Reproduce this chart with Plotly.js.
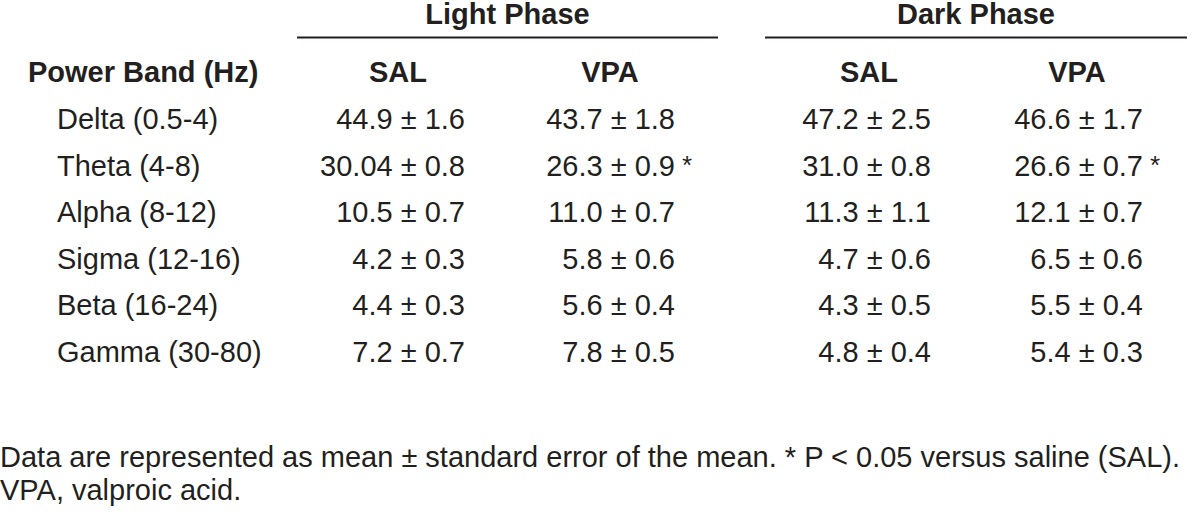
<!DOCTYPE html>
<html>
<head>
<meta charset="utf-8">
<script src="https://cdn.plot.ly/plotly-3.0.1.min.js"></script>
<style>
  html, body { margin: 0; padding: 0; background: #fff; }
  #tableChart { width: 1200px; height: 522px; }
</style>
</head>
<body>
<div id="tableChart"></div>
<script>
// values as printed (mean, SEM); kept as text so 30.04 / 11.0 keep their digits
const bands = ["Delta (0.5-4)", "Theta (4-8)", "Alpha (8-12)", "Sigma (12-16)", "Beta (16-24)", "Gamma (30-80)"];
const phases = ["Light Phase", "Dark Phase"];
const groups = ["SAL", "VPA", "SAL", "VPA"];
const rowHeader = "Power Band (Hz)";

const lightSalMean = ["44.9", "30.04", "10.5", "4.2", "4.4", "7.2"];
const lightSalSem = ["1.6", "0.8", "0.7", "0.3", "0.3", "0.7"];
const lightVpaMean = ["43.7", "26.3", "11.0", "5.8", "5.6", "7.8"];
const lightVpaSem = ["1.8", "0.9", "0.7", "0.6", "0.4", "0.5"];
const darkSalMean = ["47.2", "31.0", "11.3", "4.7", "4.3", "4.8"];
const darkSalSem = ["2.5", "0.8", "1.1", "0.6", "0.5", "0.4"];
const darkVpaMean = ["46.6", "26.6", "12.1", "6.5", "5.5", "5.4"];
const darkVpaSem = ["1.7", "0.7", "0.7", "0.6", "0.4", "0.3"];

// * P < 0.05 versus SAL
const lightVpaSig = [false, true, false, false, false, false];
const darkVpaSig = [false, true, false, false, false, false];

const footnote = [
  "Data are represented as mean ± standard error of the mean. * P < 0.05 versus saline (SAL).",
  "VPA, valproic acid."
];

// ---- layout (pixel space: x 0..1200, y 0..522 top-down)
const ink = "#231f20";
const fontFam = "Liberation Sans, Arial, sans-serif";
const fs = 29;
const rowY0 = 122, rowStep = 46.5;
const headY = 75, phaseY = 17, ruleY = 37.5;
const labelX = 57, headLabelX = 28;
const colRight = [465, 675, 931, 1143];
const colMid = [398, 610, 869, 1077];
const phaseSpan = [[297, 718], [765, 1187]];
const footY = [460, 493];

const rowY = bands.map((b, i) => rowY0 + i * rowStep);
const cols = [
  [lightSalMean, lightSalSem, null],
  [lightVpaMean, lightVpaSem, lightVpaSig],
  [darkSalMean, darkSalSem, null],
  [darkVpaMean, darkVpaSem, darkVpaSig],
];

const txt = (x, y, text, pos, size, weight) => ({
  x: x, y: y, text: text, type: "scatter", mode: "text",
  textposition: pos, hoverinfo: "skip", showlegend: false,
  textfont: { family: fontFam, size: size, color: ink, weight: weight || "normal" },
});

const data = [];
// row labels
data.push(txt(bands.map(() => labelX), rowY, bands, "middle right", fs));
// cells, right aligned on each column edge
cols.forEach(([m, s, sig], c) => {
  data.push(txt(rowY.map(() => colRight[c]), rowY, m.map((v, i) => v + " ± " + s[i]), "middle left", fs));
  if (sig) {
    const idx = sig.map((f, i) => (f ? i : -1)).filter((i) => i >= 0);
    data.push(txt(idx.map(() => colRight[c] + 7), idx.map((i) => rowY[i] - 1), idx.map(() => "*"), "middle right", fs - 3));
  }
});
// headers
data.push(txt([headLabelX], [headY], [rowHeader], "middle right", fs, "bold"));
data.push(txt(colMid, groups.map(() => headY), groups, "middle center", fs, "bold"));
data.push(txt(phaseSpan.map((p) => (p[0] + p[1]) / 2), phases.map(() => phaseY), phases, "middle center", fs, "bold"));
// footnote
data.push(txt(footnote.map(() => 0), footY, footnote, "middle right", 29));

const layout = {
  width: 1200,
  height: 522,
  margin: { l: 0, r: 0, t: 0, b: 0 },
  paper_bgcolor: "#ffffff",
  plot_bgcolor: "#ffffff",
  xaxis: { range: [0, 1200], visible: false, fixedrange: true },
  yaxis: { range: [522, 0], visible: false, fixedrange: true },
  shapes: phaseSpan.map((p) => ({
    type: "line", xref: "x", yref: "y",
    x0: p[0], x1: p[1], y0: ruleY, y1: ruleY,
    line: { color: ink, width: 2 },
  })),
};

Plotly.newPlot("tableChart", data, layout, { staticPlot: true, displayModeBar: false });
</script>
</body>
</html>
